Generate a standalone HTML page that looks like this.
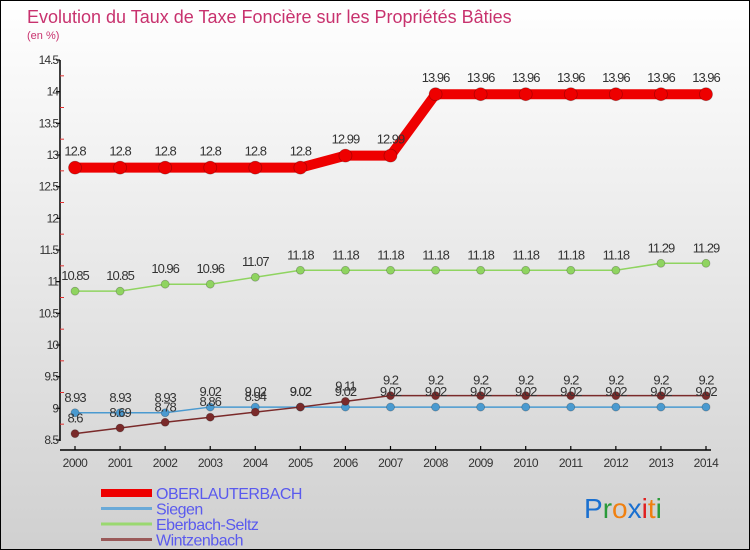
<!DOCTYPE html>
<html><head><meta charset="utf-8"><style>
body{margin:0;width:750px;height:550px;overflow:hidden;font-family:"Liberation Sans",sans-serif}
#wrap{position:relative;width:748px;height:548px;border:1px solid #000;background:linear-gradient(#ffffff,#d0d0d0)}
</style></head><body>
<div id="wrap">
<svg id="chart" width="748" height="548" style="position:absolute;left:0;top:0"></svg>
</div>
<script>
const years=[2000,2001,2002,2003,2004,2005,2006,2007,2008,2009,2010,2011,2012,2013,2014];
const oberlauterbach=[12.8,12.8,12.8,12.8,12.8,12.8,12.99,12.99,13.96,13.96,13.96,13.96,13.96,13.96,13.96];
const siegen=[8.93,8.93,8.93,9.02,9.02,9.02,9.02,9.02,9.02,9.02,9.02,9.02,9.02,9.02,9.02];
const eberbach=[10.85,10.85,10.96,10.96,11.07,11.18,11.18,11.18,11.18,11.18,11.18,11.18,11.18,11.29,11.29];
const wintzenbach=[8.6,8.69,8.78,8.86,8.94,9.02,9.11,9.2,9.2,9.2,9.2,9.2,9.2,9.2,9.2];
const yTicks=[8.5,9,9.5,10,10.5,11,11.5,12,12.5,13,13.5,14,14.5];
const seriesNames=["OBERLAUTERBACH","Siegen","Eberbach-Seltz","Wintzenbach"];

const NS="http://www.w3.org/2000/svg";
const svg=document.getElementById('chart');
const X=i=>74+i*(705-74)/(years.length-1);
const Y=v=>439-(v-8.5)*(439-59)/6;
function el(t,a,p){const e=document.createElementNS(NS,t);for(const k in a)e.setAttribute(k,a[k]);(p||svg).appendChild(e);return e;}

const title=el('text',{x:26,y:22,fill:'#c8326e','font-size':18});title.textContent='Evolution du Taux de Taxe Foncière sur les Propriétés Bâties';


const unit=el('text',{x:26,y:38,fill:'#c8326e','font-size':11});unit.textContent='(en %)';



const ya=el('line',{x1:59,y1:59,x2:59,y2:440,stroke:'#000','stroke-width':1.5});


const xa=el('line',{x1:59,y1:449,x2:710,y2:449,stroke:'#000','stroke-width':1.5});


for(let v=8.75;v<14.5;v+=0.5){el('line',{x1:59,y1:Y(v),x2:63,y2:Y(v),stroke:'#e03030','stroke-width':1});}
yTicks.forEach(v=>{
  el('line',{x1:55,y1:Y(v),x2:59,y2:Y(v),stroke:'#000','stroke-width':1.2});
  const t=el('text',{x:57,y:Y(v)+4,'text-anchor':'end','font-size':12,fill:'#333','letter-spacing':'-1'});t.textContent=String(v);
  
  
});
years.forEach((yr,i)=>{
  el('line',{x1:X(i),y1:445,x2:X(i),y2:449,stroke:'#000','stroke-width':1.2});
  const t=el('text',{x:X(i),y:466,'text-anchor':'middle','font-size':12,fill:'#333','letter-spacing':'-0.5'});t.textContent=yr;
  
  
});

function series(data,color,lw,r,name){
  const g=el('g',{});
  
  
  const pts=data.map((v,i)=>X(i)+','+Y(v)).join(' ');
  el('polyline',{points:pts,fill:'none',stroke:color,'stroke-width':lw,'stroke-linejoin':'round'},g);
  data.forEach((v,i)=>{
    const c=el('circle',{cx:X(i),cy:Y(v),r:r,fill:color,stroke:'rgba(0,0,0,0.25)','stroke-width':0.8},g);
    
    
  });
  return g;
}
function labels(data,name,dy){
  data.forEach((v,i)=>{
    const t=el('text',{x:X(i),y:Y(v)+dy,'text-anchor':'middle','font-size':13,fill:'#333','letter-spacing':'-1'});t.textContent=String(v);
    
    
  });
}
series(eberbach,'#8fd460',1.5,4,'eberbach-seltz');
series(siegen,'#4a9ad0',1.5,4,'siegen');
series(wintzenbach,'#7a2a2a',1.5,4,'wintzenbach');
series(oberlauterbach,'#ee0000',10,6.5,'oberlauterbach');
labels(oberlauterbach,'oberlauterbach',-12);
labels(eberbach,'eberbach-seltz',-11);
labels(siegen,'siegen',-11);
labels(wintzenbach,'wintzenbach',-11);

const legColors=['#ee0000','#6aaad8','#9ad870','#9a5a5a'];
const legW=[8,3,3,3];
seriesNames.forEach((n,i)=>{
  const y=492+i*15.5;
  const g=el('g',{});
  
  
  el('line',{x1:100,y1:y,x2:151,y2:y,stroke:legColors[i],'stroke-width':legW[i]},g);
  const t=el('text',{x:155,y:y+6,'font-size':16,fill:'#5a5aee','letter-spacing':'-0.5'},g);t.textContent=n;
});
const logo=el('text',{x:583,y:517,'font-size':28});


[['P','#1a70d0'],['r','#2a9a3a'],['o','#f08010'],['x','#1a70d0'],['i','#e02020'],['t','#f08010'],['i','#2a9a3a']].forEach(([c,col])=>{const s=el('tspan',{fill:col},logo);s.textContent=c;});
</script>
</body></html>
